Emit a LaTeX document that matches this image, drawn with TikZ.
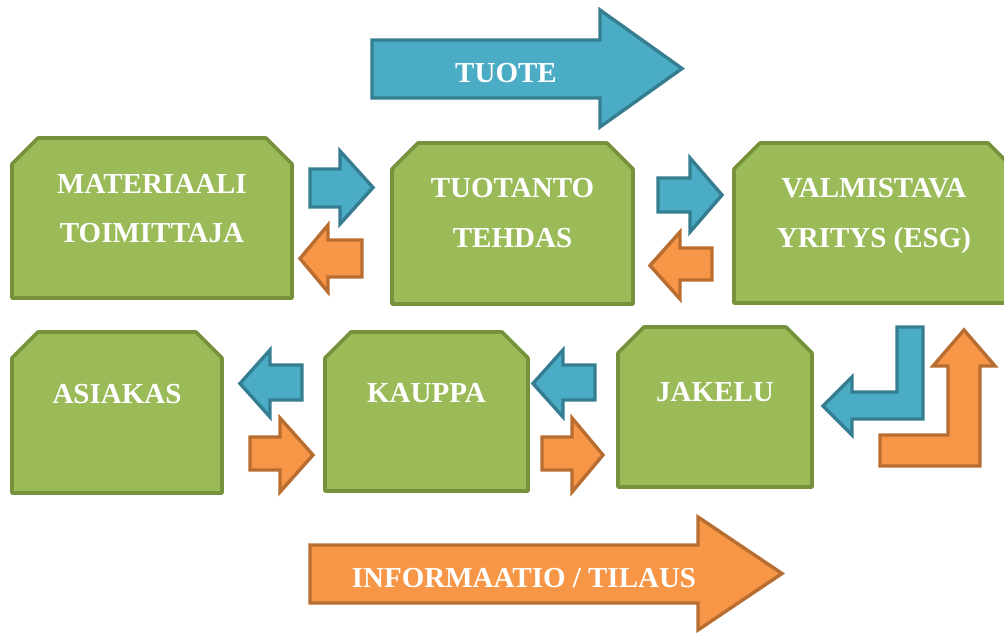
\documentclass[tikz,border=0pt]{standalone}
\usepackage{fontspec}
\setmainfont{Liberation Serif}
\definecolor{gfill}{HTML}{9BBB59}
\definecolor{gline}{HTML}{76923C}
\definecolor{bfill}{HTML}{4BACC6}
\definecolor{bline}{HTML}{357E91}
\definecolor{ofill}{HTML}{F79646}
\definecolor{oline}{HTML}{B86D31}
\tikzset{
  gbox/.style={fill=gfill, draw=gline, line width=3.6pt, line join=round},
  barrow/.style={fill=bfill, draw=bline, line width=3.4pt, line join=miter},
  oarrow/.style={fill=ofill, draw=oline, line width=3.4pt, line join=miter},
  lbl/.style={text=white, font=\fontsize{29}{35}\selectfont\bfseries, anchor=base, inner sep=0pt},
}
% snipped box: x1 y1 x2 y2 cut
\newcommand\snipbox[5]{%
  \draw[gbox] (#1,#2+#5) -- (#1+#5,#2) -- (#3-#5,#2) -- (#3,#2+#5) -- (#3,#4) -- (#1,#4) -- cycle;}
% block arrow: style, tail x, head base x, tip x, body top, body bottom, head top, head bottom
\newcommand\blockarrow[8]{%
  \draw[#1] (#2,#5) -- (#3,#5) -- (#3,#7) -- (#4,{(#7+#8)/2}) -- (#3,#8) -- (#3,#6) -- (#2,#6) -- cycle;}
\begin{document}
\begin{tikzpicture}[x=1pt,y=-1pt]
\useasboundingbox (0,0) rectangle (1004,632);

% big arrows
\blockarrow{barrow}{372}{600}{682}{40}{98}{10}{127}
\node[lbl] (tuote) at (506,82) {TUOTE};
\blockarrow{oarrow}{310}{698}{782}{545}{603}{517}{630}
\node[lbl] (info) at (524,587) {INFORMAATIO / TILAUS};

% boxes row 1
\snipbox{12}{138}{292}{298}{26}
\node[lbl] (mat1) at (152,193) {MATERIAALI};
\node[lbl] (mat2) at (152,242) {TOIMITTAJA};
\snipbox{392}{143}{633}{304}{26}
\node[lbl] (tuo1) at (512.5,197) {TUOTANTO};
\node[lbl] (tuo2) at (512.5,247) {TEHDAS};
\snipbox{734}{143}{1014}{303}{26}
\node[lbl] (val1) at (874,197) {VALMISTAVA};
\node[lbl] (val2) at (874,247) {YRITYS (ESG)};

% boxes row 2
\snipbox{12}{332}{222}{493}{26}
\node[lbl] (asi) at (117,403) {ASIAKAS};
\snipbox{325}{332}{528}{491}{26}
\node[lbl] (kau) at (426.5,402) {KAUPPA};
\snipbox{618}{327}{812}{487}{26}
\node[lbl] (jak) at (715,401) {JAKELU};

% small arrows row 1
\blockarrow{barrow}{310}{340}{373}{169}{207}{151}{224}
\blockarrow{oarrow}{362}{328}{300}{240}{277}{225}{292}
\blockarrow{barrow}{658}{690}{722}{178}{212}{158}{232}
\blockarrow{oarrow}{712}{680}{650}{248}{280}{232}{299}

% small arrows row 2
\blockarrow{barrow}{302}{270}{240}{365}{400}{350}{417}
\blockarrow{oarrow}{250}{280}{313}{437}{470}{418}{492}
\blockarrow{barrow}{595}{563}{533}{365}{400}{350}{417}
\blockarrow{oarrow}{542}{572}{603}{437}{470}{418}{492}

% L-shaped arrows
\draw[barrow] (897,327) -- (923,327) -- (923,419) -- (852,419) -- (852,435)
  -- (823,406) -- (852,377) -- (852,392) -- (897,392) -- cycle;
\draw[oarrow] (880,435) -- (948,435) -- (948,366) -- (933,366) -- (964,330)
  -- (995,366) -- (980,366) -- (980,466) -- (880,466) -- cycle;
\end{tikzpicture}
\end{document}
